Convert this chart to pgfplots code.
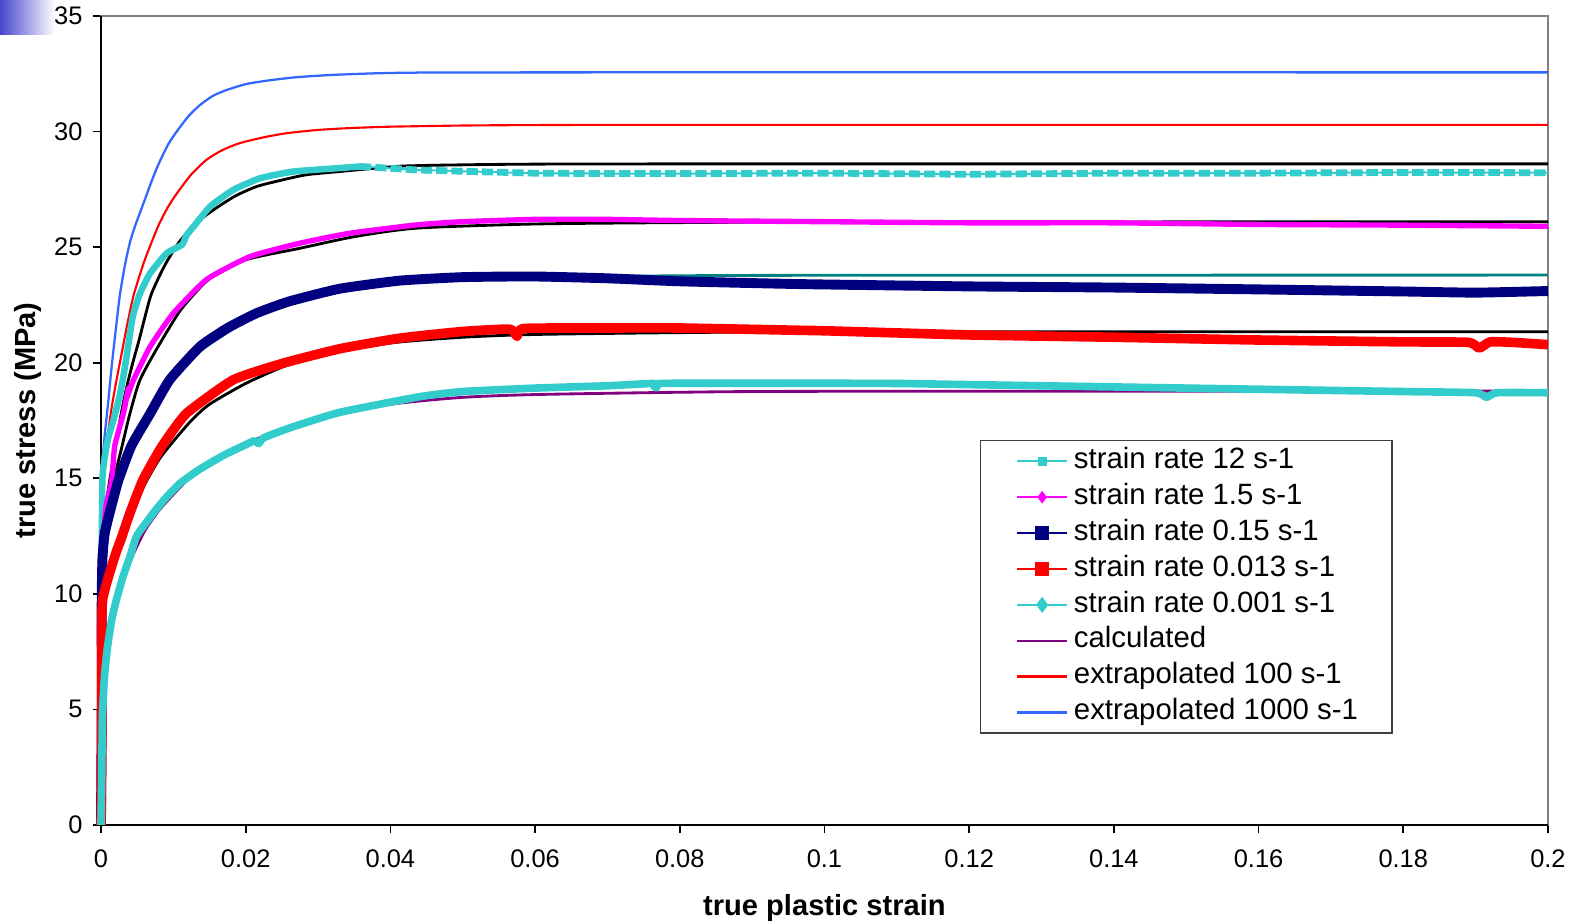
\documentclass[border=0pt]{standalone}
\usepackage{fontspec}
\setmainfont{Liberation Sans}
\usepackage{pgfplots}
\pgfplotsset{compat=1.18}
\usepackage{pgfplotstable}

\definecolor{cyanD}{RGB}{51,204,204}
\definecolor{magentaD}{RGB}{255,0,255}
\definecolor{navyD}{RGB}{0,0,128}
\definecolor{purpleD}{RGB}{128,0,128}
\definecolor{blueD}{RGB}{51,102,255}
\definecolor{tealD}{RGB}{0,128,128}
\definecolor{gradblue}{RGB}{70,70,205}

% ---------- measured curves ----------
\pgfplotstableread{
x y
0 0
0.0001 5
0.0001 10
0.0002 15
0.0009 16.6
0.0018 17.6
0.0026 18.6
0.0032 19.6
0.0037 20.6
0.0044 22.0
0.0054 23.0
0.0068 23.87
0.0091 24.74
0.0112 25.1
0.0118 25.5
0.0128 25.89
0.0151 26.76
0.0183 27.48
0.0220 27.98
0.0266 28.27
0.0330 28.42
0.0358 28.49
}\rateTwelveRise
\pgfplotstableread{
x y
0.0358 28.49
0.0436 28.34
0.050 28.28
0.0597 28.2
0.070 28.18
0.080 28.18
0.100 28.2
0.120 28.15
0.140 28.2
0.160 28.2
0.180 28.23
0.200 28.22
}\rateTwelvePlateau
\pgfplotstableread{
x y
0 0
0.0001 6
0.0002 10
0.0003 12.2
0.0007 13.8
0.0015 14.9
0.0019 16.4
0.0031 17.8
0.0038 18.9
0.0036 18.5
0.0045 19.26
0.0068 20.7
0.0100 22.14
0.0146 23.6
0.0206 24.59
0.0275 25.17
0.0344 25.6
0.0436 25.96
0.050 26.1
0.060 26.2
0.070 26.2
0.080 26.15
0.100 26.1
0.120 26.05
0.140 26.05
0.160 25.98
0.180 25.95
0.200 25.9
}\rateOnePointFive
\pgfplotstableread{
x y
0 0
0.0001 5
0.0001 9.7
0.0002 11.5
0.0005 12.6
0.0012 13.5
0.0024 14.9
0.0042 16.4
0.0068 17.8
0.0095 19.26
0.0137 20.7
0.0175 21.5
0.0215 22.14
0.0260 22.65
0.0330 23.2
0.0413 23.55
0.050 23.7
0.0597 23.73
0.070 23.65
0.080 23.52
0.0966 23.4
0.120 23.3
0.140 23.25
0.160 23.17
0.180 23.08
0.190 23.03
0.200 23.1
}\rateZeroFifteen
\pgfplotstableread{
x y
0 0
0.0001 3.3
0.0001 8
0.0002 9.7
0.0010 10.7
0.0021 11.8
0.0029 12.48
0.0040 13.49
0.0058 14.93
0.0084 16.37
0.0118 17.8
0.0183 19.26
0.0252 19.98
0.0330 20.6
0.0413 21.06
0.0500 21.35
0.0565 21.45
0.0575 21.15
0.0585 21.48
0.070 21.5
0.080 21.5
0.0966 21.4
0.100 21.38
0.120 21.2
0.140 21.1
0.160 20.98
0.180 20.9
0.189 20.88
0.1905 20.63
0.192 20.9
0.195 20.88
0.200 20.78
}\rateZeroZeroThirteen
\pgfplotstableread{
x y
0 0
0.0001 2
0.0002 4.7
0.0005 6.5
0.0009 7.7
0.0015 8.9
0.0021 9.7
0.0030 10.7
0.0040 11.6
0.0049 12.48
0.0063 13.1
0.0075 13.6
0.0091 14.2
0.0110 14.8
0.0137 15.4
0.0170 16.0
0.0200 16.45
0.0212 16.62
0.0218 16.5
0.0225 16.75
0.0263 17.2
0.0330 17.85
0.0441 18.53
0.050 18.75
0.060 18.9
0.070 19.0
0.0765 19.1
0.0768 18.9
0.0772 19.1
0.0966 19.11
0.110 19.1
0.120 19.05
0.140 18.95
0.160 18.85
0.180 18.75
0.190 18.7
0.1915 18.5
0.193 18.7
0.200 18.7
}\rateZeroZeroOne
% ---------- calculated curves ----------
\pgfplotstableread{
x y
0 12
0.0005 13.3
0.001 14.5
0.0019 16.2
0.0028 17.8
0.0036 19.0
0.0044 20.0
0.0052 20.9
0.0061 22.0
0.0070 23.0
0.0088 24.2
0.0107 25.17
0.0130 26.0
0.0155 26.6
0.0185 27.2
0.0215 27.62
0.0250 27.9
0.0284 28.13
0.0330 28.27
0.0413 28.5
0.050 28.56
0.060 28.59
0.080 28.6
0.200 28.6
}\calcTwelve
\pgfplotstableread{
x y
0 11
0.0005 12.3
0.001 13.4
0.0018 14.93
0.0029 16.37
0.0040 17.8
0.0054 19.26
0.0079 20.7
0.0107 22.14
0.0124 22.8
0.0151 23.65
0.0200 24.45
0.0275 24.95
0.0350 25.45
0.0436 25.82
0.060 26.0
0.080 26.06
0.100 26.08
0.200 26.1
}\calcOnePointFive
\pgfplotstableread{
x y
0 10
0.0005 11.6
0.001 12.6
0.002 14.1
0.003 15.3
0.004 16.3
0.006 17.6
0.008 18.6
0.010 19.4
0.0125 20.2
0.015 20.8
0.020 21.8
0.025 22.45
0.030 22.9
0.040 23.4
0.050 23.6
0.060 23.7
0.080 23.76
0.100 23.78
0.200 23.79
}\calcZeroFifteen
\pgfplotstableread{
x y
0 9
0.0005 9.8
0.001 10.5
0.002 11.6
0.003 12.5
0.004 13.3
0.006 14.7
0.008 15.8
0.010 16.6
0.0125 17.5
0.015 18.2
0.020 19.1
0.025 19.8
0.030 20.3
0.040 20.85
0.050 21.1
0.060 21.22
0.080 21.3
0.100 21.33
0.200 21.34
}\calcZeroZeroThirteen
\pgfplotstableread{
x y
0 7
0.0005 7.9
0.001 8.6
0.002 9.7
0.003 10.6
0.004 11.4
0.006 12.7
0.008 13.6
0.010 14.3
0.0125 15.1
0.015 15.7
0.020 16.5
0.025 17.1
0.030 17.6
0.040 18.2
0.050 18.5
0.060 18.62
0.080 18.72
0.100 18.76
0.200 18.77
}\calcZeroZeroOne
\pgfplotstableread{
x y
0 14.0
0.0005 15.6
0.001 17.0
0.0015 18.1
0.002 19.0
0.0028 20.3
0.0036 21.6
0.0045 22.9
0.0060 24.4
0.0079 25.9
0.0092 26.7
0.0105 27.33
0.0125 28.15
0.0146 28.78
0.0168 29.2
0.0192 29.5
0.0225 29.75
0.0257 29.93
0.0300 30.07
0.0344 30.15
0.0400 30.21
0.0500 30.26
0.0600 30.28
0.0800 30.29
0.2000 30.29
}\extraHundred
\pgfplotstableread{
x y
0 15.0
0.0005 16.8
0.001 18.3
0.0015 19.9
0.002 21.3
0.0026 22.9
0.0033 24.2
0.0040 25.2
0.0047 25.9
0.0060 27.0
0.0070 27.85
0.0079 28.55
0.0093 29.45
0.0107 30.1
0.0122 30.7
0.0137 31.15
0.0155 31.55
0.0174 31.8
0.0200 32.05
0.0229 32.2
0.0270 32.35
0.0320 32.45
0.0380 32.52
0.0440 32.55
0.0600 32.56
0.2000 32.56
}\extraThousand

\begin{document}
\begin{tikzpicture}
\useasboundingbox (-35.75pt,-34.7pt) rectangle (524pt,292.06pt);
\begin{axis}[
  at={(0pt,0pt)}, anchor=south west,
  scale only axis,
  width=512.3pt, height=286.4pt,
  xmin=0, xmax=0.2, ymin=0, ymax=35,
  xtick={0,0.02,0.04,0.06,0.08,0.1,0.12,0.14,0.16,0.18,0.2},
  xticklabels={0,0.02,0.04,0.06,0.08,0.1,0.12,0.14,0.16,0.18,0.2},
  ytick={0,5,10,15,20,25,30,35},
  yticklabels={0,5,10,15,20,25,30,35},
  scaled x ticks=false,
  tick align=outside,
  major tick length=3pt,
  xtick pos=left, ytick pos=left,
  axis line style={draw=black!50, line width=0.7pt},
  tick style={black, line width=0.6pt},
  ticklabel style={font=\fontsize{9}{10.8}\selectfont},
  xticklabel style={yshift=-2.4pt},
  xlabel={true plastic strain},
  ylabel={true stress (MPa)},
  label style={font=\fontsize{10.3}{12}\selectfont\bfseries, inner sep=0pt},
  xlabel style={at={(axis description cs:0.5,-0.1024)}, anchor=center},
  ylabel style={at={(axis description cs:-0.0505,0.5)}, anchor=center},
  clip=false,
  legend cell align=left,
  legend style={
    at={(axis description cs:0.6075,0.476)}, anchor=north west,
    draw=black!75, line width=0.5pt,
    font=\fontsize{10.4}{12}\selectfont,
    inner xsep=10pt, inner ysep=1pt,
    nodes={text height=7.5pt, text depth=2.4pt, inner ysep=1.4pt, inner xsep=2pt},
  },
  legend image code/.code={
    \path (0pt,0pt);
    \draw[#1] (2.5pt,0pt) -- (20.2pt,0pt);
    \draw[#1, only marks] plot coordinates {(11.35pt,0pt)};
  },
]
% axis lines left and bottom in black
\draw[black, line width=0.8pt] (rel axis cs:0,1) -- (rel axis cs:0,0) -- (rel axis cs:1,0);

% legend entries
\addlegendimage{cyanD, line width=0.8pt, mark=square*, mark size=1.2pt}
\addlegendentry{strain rate 12 s-1}
\addlegendimage{magentaD, line width=0.8pt, mark=diamond*, mark size=1.6pt}
\addlegendentry{strain rate 1.5 s-1}
\addlegendimage{navyD, line width=0.8pt, mark=square*, mark size=2pt}
\addlegendentry{strain rate 0.15 s-1}
\addlegendimage{red, line width=0.8pt, mark=square*, mark size=2pt}
\addlegendentry{strain rate 0.013 s-1}
\addlegendimage{cyanD, line width=0.8pt, mark=diamond*, mark size=2.2pt}
\addlegendentry{strain rate 0.001 s-1}
\addlegendimage{purpleD, line width=0.8pt}
\addlegendentry{calculated}
\addlegendimage{red, line width=0.8pt}
\addlegendentry{extrapolated 100 s-1}
\addlegendimage{blueD, line width=0.8pt}
\addlegendentry{extrapolated 1000 s-1}

% calculated curves
\addplot[forget plot, black, line width=1pt, smooth, tension=0.4] table {\calcTwelve};
\addplot[forget plot, black, line width=1pt, smooth, tension=0.4] table {\calcOnePointFive};
\addplot[forget plot, tealD, line width=1pt, smooth, tension=0.4] table {\calcZeroFifteen};
\addplot[forget plot, black, line width=1pt, smooth, tension=0.4] table {\calcZeroZeroThirteen};
\addplot[forget plot, purpleD, line width=1pt, smooth, tension=0.4] table {\calcZeroZeroOne};
\addplot[forget plot, red, line width=0.75pt, smooth, tension=0.4] table {\extraHundred};
\addplot[forget plot, blueD, line width=0.8pt, smooth, tension=0.4] table {\extraThousand};

% measured curves
\addplot[forget plot, cyanD, line width=2.3pt, line join=round, smooth, tension=0.3] table {\rateTwelveRise};
\addplot[forget plot, cyanD, line width=0.7pt] table {\rateTwelvePlateau};
\addplot[forget plot, cyanD, line width=2.4pt, dash pattern=on 4pt off 1.4pt] table {\rateTwelvePlateau};
\addplot[forget plot, magentaD, line width=1.9pt, line join=round, smooth, tension=0.3] table {\rateOnePointFive};
\addplot[forget plot, navyD, line width=3.5pt, line join=round, smooth, tension=0.3] table {\rateZeroFifteen};
\addplot[forget plot, red, line width=3.4pt, line join=round, smooth, tension=0.3] table {\rateZeroZeroThirteen};
\addplot[forget plot, cyanD, line width=2.7pt, line join=round, smooth, tension=0.3] table {\rateZeroZeroOne};
\end{axis}
\shade[left color=gradblue, right color=white]
  (-35.75pt,292.06pt) rectangle (-16.3pt,279.7pt);
\end{tikzpicture}
\end{document}
